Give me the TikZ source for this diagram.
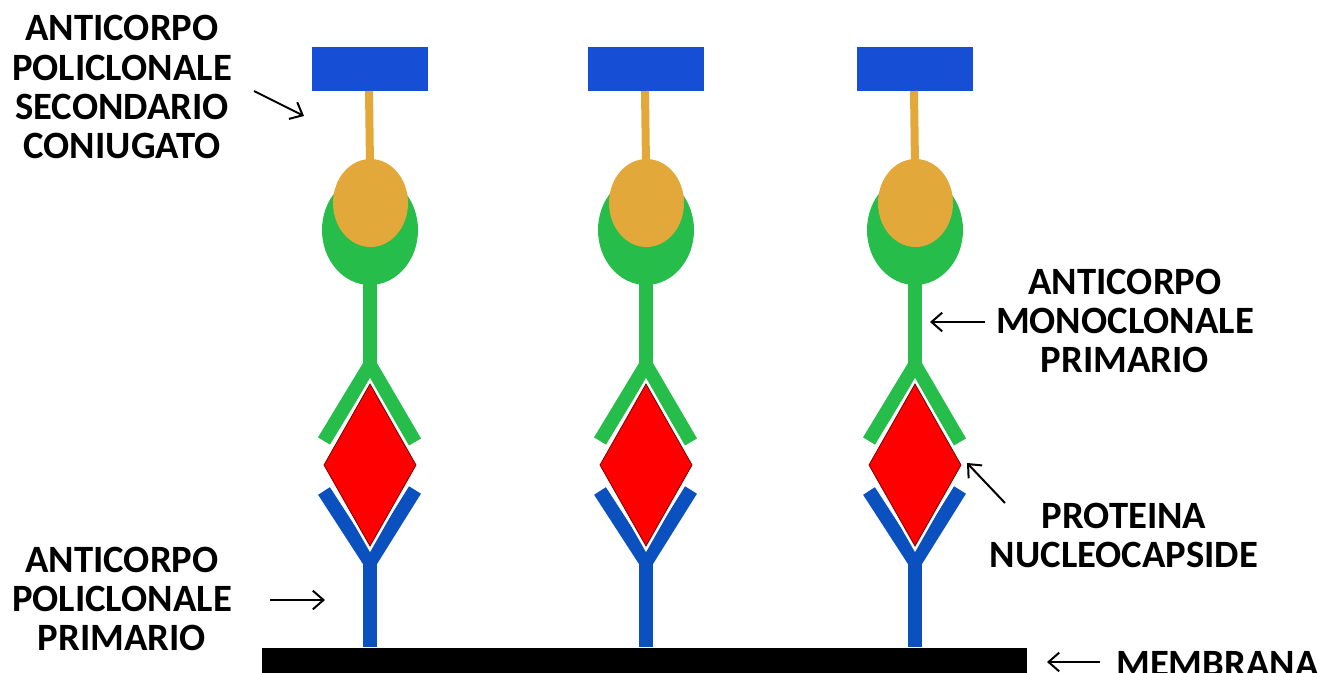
\documentclass[tikz,border=0pt]{standalone}
\usepackage{fontspec}
\setmainfont{Carlito}
\usetikzlibrary{arrows.meta}
\definecolor{tagblue}{RGB}{22,78,214}
\definecolor{abblue}{RGB}{10,80,190}
\definecolor{abgreen}{RGB}{38,189,75}
\definecolor{aborange}{RGB}{227,168,58}
\definecolor{antigen}{RGB}{255,0,0}
\definecolor{antigenrim}{RGB}{120,0,0}
\begin{document}
\begin{tikzpicture}[x=0.75pt,y=-0.75pt,
  label/.style={font=\bfseries\fontsize{29}{29.3}\selectfont,align=center,inner sep=0pt},
  pointer/.style={draw=black,line width=1.5pt,-{Straight Barb[length=8pt,width=14pt]}},
  thinstalk/.style={line width=6pt},
  stalk/.style={line width=10.5pt},
  arms/.style={line width=10.5pt,miter limit=10}]
\useasboundingbox (0,0) rectangle (1322,672);

% three sandwich assemblies standing on the membrane
\foreach \cx/\n in {370/a,646/b,915/c}{
  % conjugated secondary antibody: label tag, linker and Fab head
  \fill[tagblue] (\cx-58,47) rectangle (\cx+58,91);
  \draw[aborange,thinstalk] (\cx-1,91) -- (\cx,165);
  % primary monoclonal antibody (green)
  \fill[abgreen] (\cx,230) ellipse [x radius=48,y radius=55];
  \fill[aborange] (\cx+0.5,203) ellipse [x radius=37.5,y radius=44];
  \draw[abgreen,stalk] (\cx,283) -- (\cx,368);
  \draw[abgreen,arms] (\cx-46,441) -- (\cx,365) -- (\cx+45,442);
  % primary polyclonal antibody (blue)
  \draw[abblue,stalk] (\cx,647) -- (\cx,556);
  \draw[abblue,arms] (\cx-46,491) -- (\cx,562) -- (\cx+45,490);
  % nucleocapsid protein
  \draw[white,line width=4.5pt,fill=white]
    (\cx,384) -- (\cx+46,465) -- (\cx,546) -- (\cx-46,465) -- cycle;
  \draw[antigenrim,line width=0.6pt,fill=antigen]
    (\cx,384) -- (\cx+46,465) -- (\cx,546) -- (\cx-46,465) -- cycle;
}

% membrane
\fill[black] (262,648) rectangle (1027,680);

% labels
\node[label] (sec) at (122,87) {ANTICORPO\\POLICLONALE\\SECONDARIO\\CONIUGATO};
\node[label] (mono) at (1125,321) {ANTICORPO\\MONOCLONALE\\PRIMARIO};
\node[label] (prot) at (1124,535) {PROTEINA\\NUCLEOCAPSIDE};
\node[label] (poly) at (122,599) {ANTICORPO\\POLICLONALE\\PRIMARIO};
\node[label,anchor=north west] (memb) at (1116,651) {MEMBRANA};

% pointer arrows
\coordinate (secA) at (254,91);   \coordinate (secB) at (304,116);
\coordinate (monoA) at (985,322); \coordinate (monoB) at (930,322);
\coordinate (protA) at (1005,503);\coordinate (protB) at (967,463);
\coordinate (polyA) at (270,600); \coordinate (polyB) at (325,600);
\coordinate (membA) at (1100,662);\coordinate (membB) at (1047,662);
\draw[pointer] (secA) -- (secB);
\draw[pointer] (monoA) -- (monoB);
\draw[pointer] (protA) -- (protB);
\draw[pointer] (polyA) -- (polyB);
\draw[pointer] (membA) -- (membB);
\end{tikzpicture}
\end{document}
